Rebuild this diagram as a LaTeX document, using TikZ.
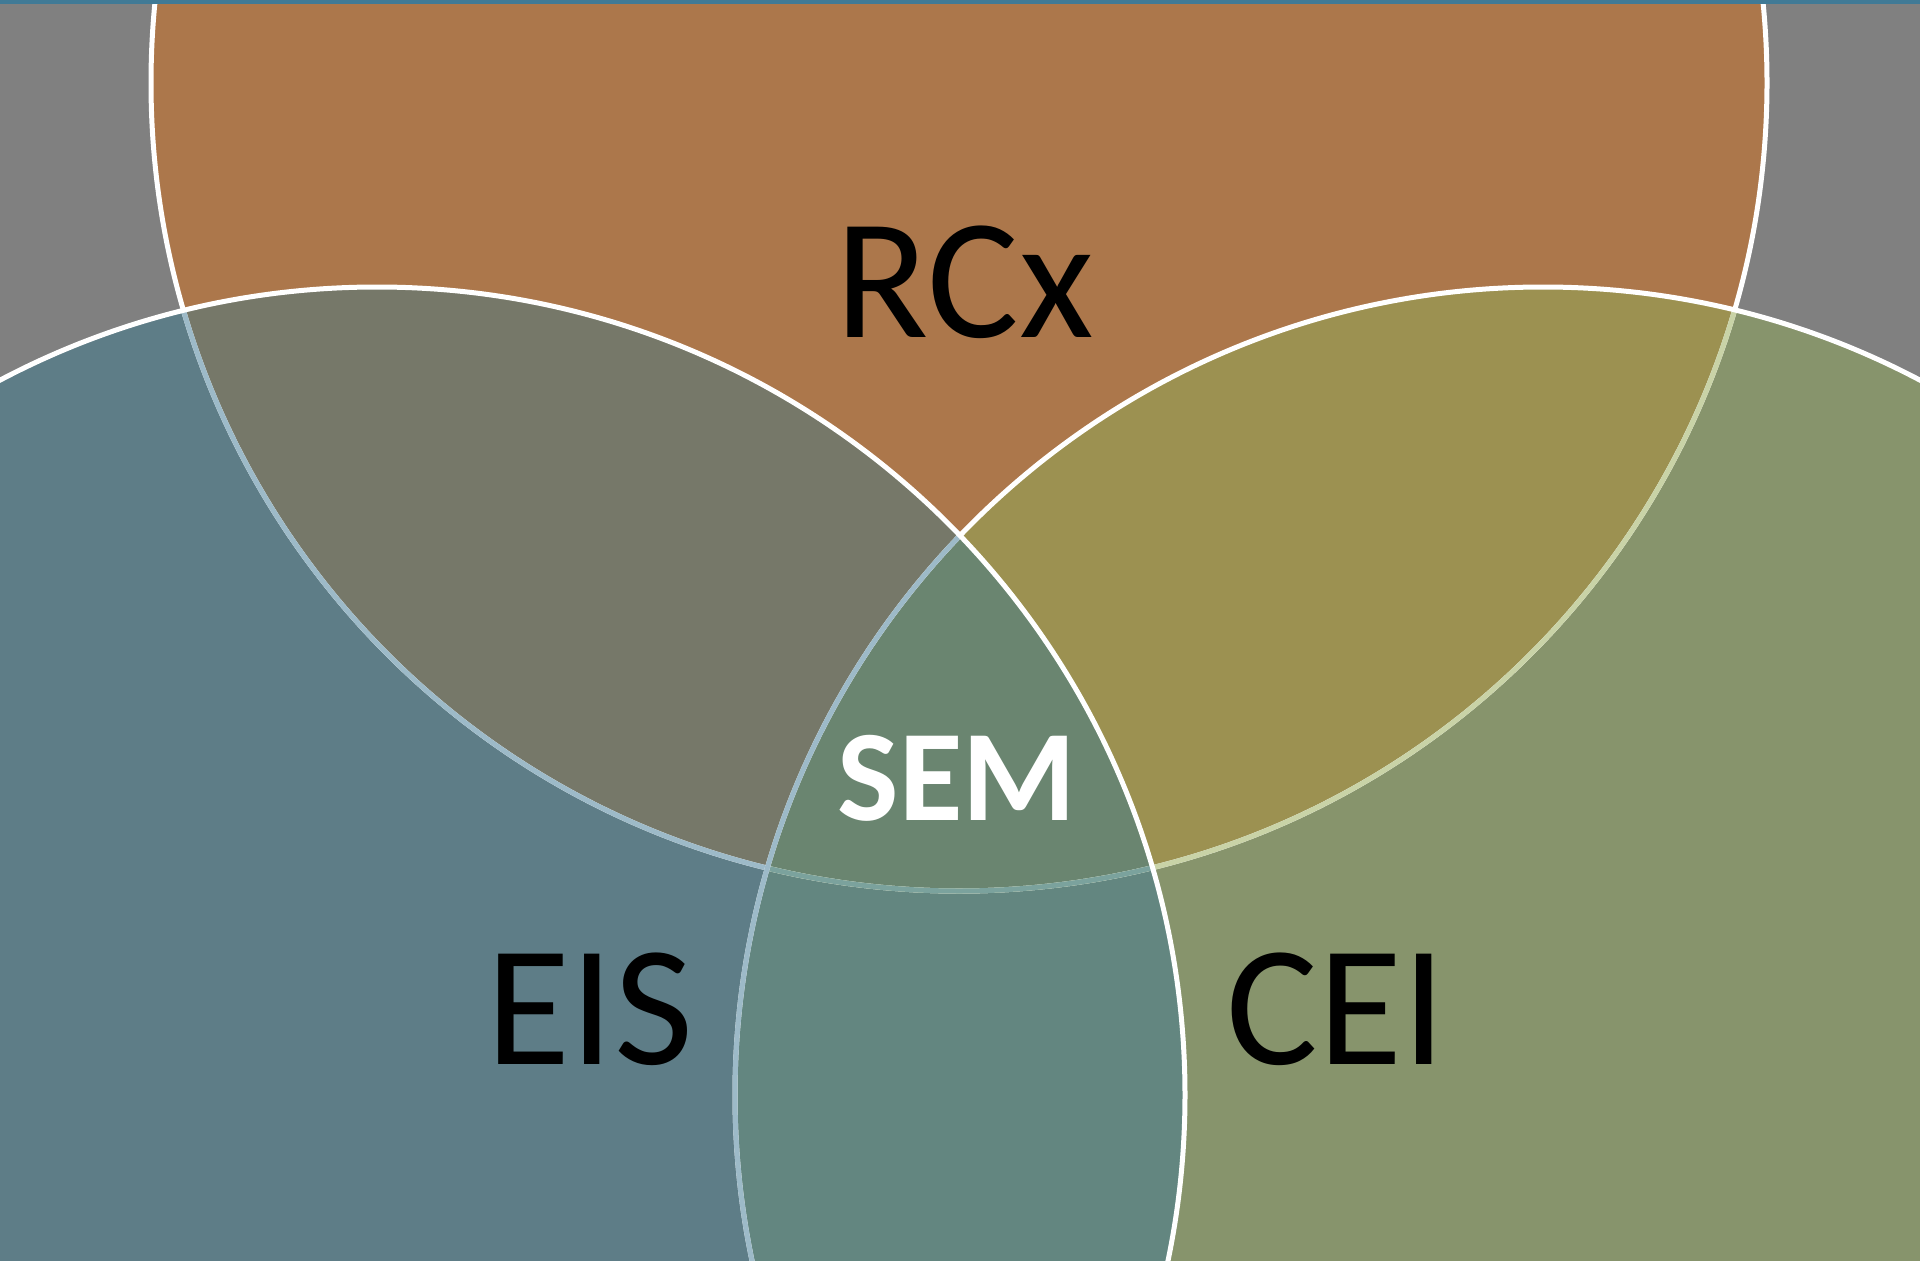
\documentclass[tikz,border=0pt]{standalone}
\usepackage{fontspec}
\setmainfont{Carlito}
\definecolor{bg}{HTML}{808080}
\definecolor{cT}{HTML}{AC774B}
\definecolor{cL}{HTML}{5E7D87}
\definecolor{cR}{HTML}{87946C}
\definecolor{cTL}{HTML}{767869}
\definecolor{cTR}{HTML}{9C9151}
\definecolor{cLR}{HTML}{638680}
\definecolor{cA}{HTML}{6A8570}
\definecolor{lnL}{HTML}{9DBAC8}
\definecolor{lnR}{HTML}{C9D3A7}
\definecolor{lnLR}{HTML}{7BA29D}
\definecolor{topbar}{HTML}{407A96}
\def\TopC{(959,-83) circle[radius=808pt]}
\def\LeftC{(377,-1095) circle[radius=808pt]}
\def\RightC{(1543,-1095) circle[radius=808pt]}
\tikzset{
  ring/.style={line width=5pt},
  label/.style={inner sep=0pt, font=\fontsize{172}{180}\selectfont, text=black},
  semlabel/.style={inner sep=0pt, font=\fontsize{130}{136}\selectfont\bfseries, text=white}
}
\begin{document}
\begin{tikzpicture}[x=1pt,y=1pt]
\useasboundingbox (0,0) rectangle (1920,-1261);
\fill[bg] (0,0) rectangle (1920,-1261);
\begin{scope}
\clip (0,0) rectangle (1920,-1261);
% region fills
\fill[cT] \TopC;
\fill[cL] \LeftC;
\fill[cR] \RightC;
\begin{scope}\clip \TopC; \fill[cTL] \LeftC; \fill[cTR] \RightC;\end{scope}
\begin{scope}\clip \LeftC; \fill[cLR] \RightC;\end{scope}
\begin{scope}\clip \TopC; \clip \LeftC; \fill[cA] \RightC;\end{scope}
% outlines
\draw[ring,white] \TopC;
\begin{scope}\clip \LeftC; \draw[ring,lnL] \TopC;\end{scope}
\begin{scope}\clip \RightC; \draw[ring,lnR] \TopC;\end{scope}
\begin{scope}\clip \LeftC; \clip \RightC; \draw[ring,lnLR] \TopC;\end{scope}
\draw[ring,white] \RightC;
\begin{scope}\clip \LeftC; \draw[ring,lnL] \RightC;\end{scope}
\draw[ring,white] \LeftC;
\end{scope}
\fill[topbar] (0,0) rectangle (1920,-4);
% labels
\node[label] (rcx) at (965,-282) {RCx};
\node[semlabel] (sem) at (957,-778) {SEM};
\node[label] (eis) at (590,-1009) {EIS};
\node[label] (cei) at (1336,-1009) {CEI};
\end{tikzpicture}
\end{document}
